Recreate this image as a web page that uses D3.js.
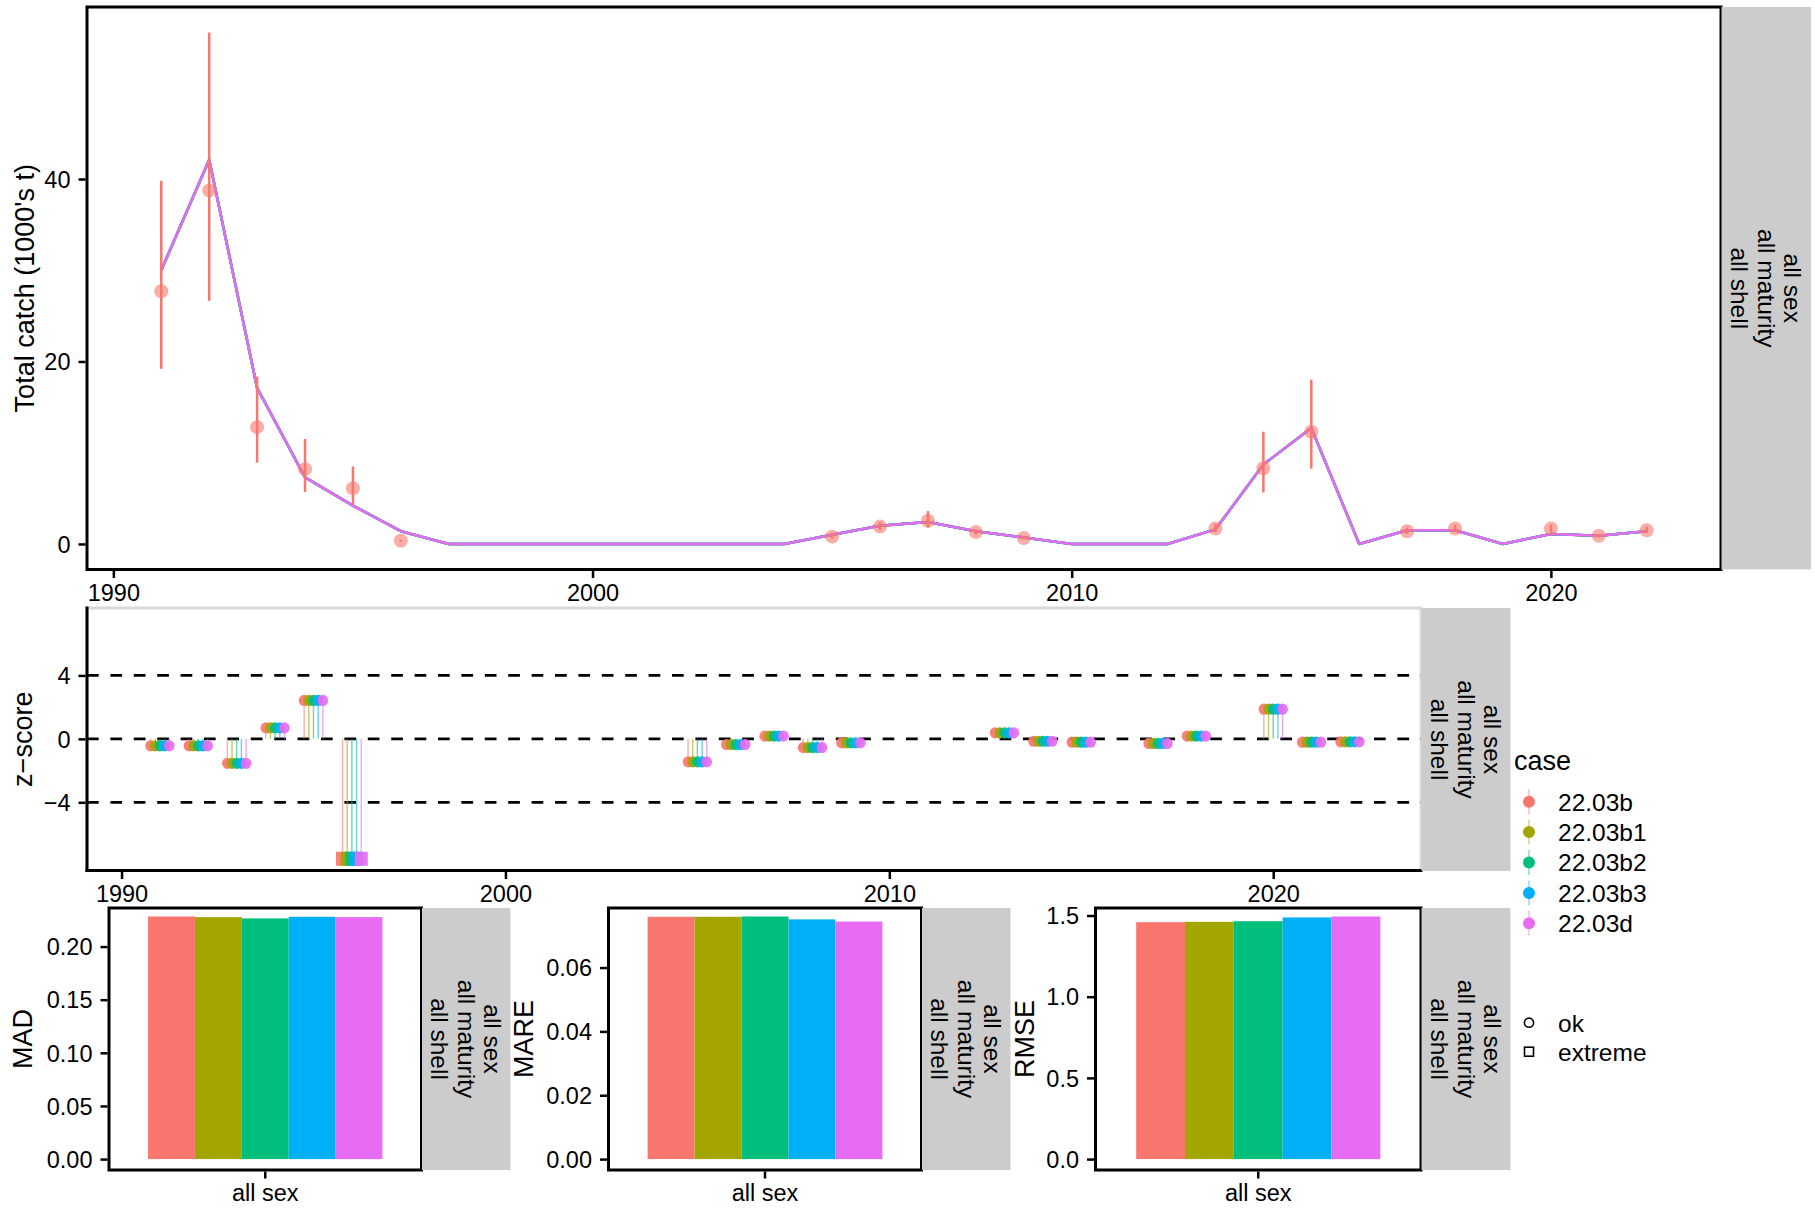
<!DOCTYPE html>
<html><head><meta charset="utf-8">
<script src="https://cdn.jsdelivr.net/npm/d3@7"></script>
<style>
body{margin:0;background:#fff}
svg{display:block}
text{font-family:"Liberation Sans",Arial,Helvetica,sans-serif;fill:#000}
</style>
</head><body>
<svg id="chart" width="1815" height="1208"></svg>
<script>
// ---------------- data ----------------
const cases = ["22.03b","22.03b1","22.03b2","22.03b3","22.03d"];
const caseColors = ["#F8766D","#A3A500","#00BF7D","#00B0F6","#E76BF3"];

const catchYears = [1991,1992,1993,1994,1995,1996,1997,1998,1999,2000,2001,2002,2003,2004,2005,2006,
                    2007,2008,2009,2010,2011,2012,2013,2014,2015,2016,2017,2018,2019,2020,2021,2022];
const predCatch  = [30.0,42.1,17.1,7.3,4.2,1.4,0,0,0,0,0,0,0,0,1.0,2.0,
                    2.4,1.4,0.7,0,0,0,1.6,8.7,12.7,0,1.5,1.5,0,1.1,0.9,1.4];

const obsYears = [1991,1992,1993,1994,1995,1996,2005,2006,2007,2008,2009,2013,2014,2015,2017,2018,2020,2021,2022];
const obsCatch = [27.7,38.75,12.8,8.2,6.1,0.35,0.8,1.9,2.55,1.3,0.65,1.7,8.3,12.3,1.4,1.7,1.7,0.9,1.5];
const obsLow   = [19.2,26.65,8.9,5.7,4.3,0.25,0.6,1.5,1.8,1.0,0.5,1.3,5.65,8.26,1.1,1.35,1.35,0.7,1.2];
const obsHigh  = [39.8,56.05,18.35,11.5,8.5,0.45,1.0,2.4,3.6,1.6,0.8,2.2,12.3,18.0,1.8,2.1,2.1,1.1,1.9];

const zYears  = [1991,1992,1993,1994,1995,1996,2005,2006,2007,2008,2009,2013,2014,2015,2017,2018,2020,2021,2022];
const zScores = [-0.44,-0.44,-1.54,0.69,2.42,-7.56,-1.45,-0.36,0.17,-0.55,-0.25,0.38,-0.15,-0.21,-0.29,0.17,1.87,-0.21,-0.19];

const madValues  = [0.2283,0.2277,0.2265,0.2280,0.2277];
const mareValues = [0.0759,0.0759,0.0760,0.0751,0.0744];
const rmseValues = [1.459,1.461,1.465,1.488,1.494];

const catchTicks = [0,20,40];
const yearTicks  = [1990,2000,2010,2020];
const zTicks     = [-4,0,4];
const madTicks   = [0,0.05,0.10,0.15,0.20];
const mareTicks  = [0,0.02,0.04,0.06];
const rmseTicks  = [0,0.5,1.0,1.5];
const stripLines = ["all sex","all maturity","all shell"];
const barCategory = "all sex";
const shapeLabels = ["ok","extreme"];

// ---------------- helpers ----------------
const svg = d3.select("#chart");
const TICK = 23.5, TITLE = 27, STRIP = 24.5, LEG = 24.5;
const GREY = "#CCCCCC";

function strip(x0, x1, y0, y1) {
  svg.append("rect").attr("x", x0).attr("y", y0).attr("width", x1 - x0).attr("height", y1 - y0).attr("fill", GREY);
  const g = svg.append("g").attr("transform", `translate(${(x0 + x1) / 2},${(y0 + y1) / 2}) rotate(90)`);
  stripLines.forEach((t, i) => {
    g.append("text").attr("x", 0).attr("y", (i - 1) * 26.5).attr("text-anchor", "middle")
      .attr("dominant-baseline", "central").style("font-size", STRIP + "px").text(t);
  });
}
function yTitle(x, y, t) {
  svg.append("text").attr("transform", `translate(${x},${y}) rotate(-90)`).attr("text-anchor", "middle")
    .attr("dominant-baseline", "central").style("font-size", TITLE + "px").text(t);
}
function styleAxis(g) {
  g.select(".domain").remove();
  g.selectAll(".tick line").attr("stroke", "#000").attr("stroke-width", 2.5);
  g.selectAll(".tick text").style("font-size", TICK + "px").attr("fill", "#000")
    .style("font-family", '"Liberation Sans",Arial,sans-serif');
}
function leftAxis(scale, ticks, fmt, x) {
  const g = svg.append("g").attr("transform", `translate(${x},0)`)
    .call(d3.axisLeft(scale).tickValues(ticks).tickFormat(fmt).tickSize(7).tickPadding(8));
  styleAxis(g);
  g.selectAll(".tick text").attr("dy", "0.35em");
}
function bottomAxis(scale, ticks, fmt, y) {
  const g = svg.append("g").attr("transform", `translate(0,${y})`)
    .call(d3.axisBottom(scale).tickValues(ticks).tickFormat(fmt).tickSize(7).tickPadding(6));
  styleAxis(g);
  g.selectAll(".tick text").attr("dy", "0.71em");
}

// ---------------- top panel: catch ----------------
{
  const L = 87, R = 1721, T = 7, B = 569.5;
  const x = d3.scaleLinear().domain([1989.45, 2023.55]).range([L, R]);
  const y = d3.scaleLinear().domain([-2.8, 58.85]).range([B, T]);
  svg.append("rect").attr("x", L).attr("y", T).attr("width", R - L).attr("height", B - T).attr("fill", "#fff");

  const line = d3.line().x((d, i) => x(catchYears[i])).y(d => y(d));
  cases.forEach((c, k) => {
    svg.append("path").datum(predCatch).attr("d", line).attr("fill", "none")
      .attr("stroke", caseColors[k]).attr("stroke-width", 2.5).attr("stroke-linejoin", "round");
  });
  svg.append("g").selectAll("line").data(obsYears).join("line")
    .attr("x1", d => x(d)).attr("x2", d => x(d))
    .attr("y1", (d, i) => y(obsLow[i])).attr("y2", (d, i) => y(obsHigh[i]))
    .attr("stroke", caseColors[0]).attr("stroke-width", 2.5);
  svg.append("g").selectAll("circle").data(obsYears).join("circle")
    .attr("cx", d => x(d)).attr("cy", (d, i) => y(obsCatch[i])).attr("r", 7)
    .attr("fill", caseColors[0]).attr("fill-opacity", 0.6);

  svg.append("rect").attr("x", L).attr("y", T).attr("width", R - L).attr("height", B - T)
    .attr("fill", "none").attr("stroke", "#000").attr("stroke-width", 3);
  leftAxis(y, catchTicks, d3.format("d"), L - 1.5);
  bottomAxis(x, yearTicks, d3.format("d"), B + 1.5);
  yTitle(25, (T + B) / 2, "Total catch (1000's t)");
  strip(R + 0.5, 1811, T, B);
}

// ---------------- middle panel: z-scores ----------------
{
  const L = 87, R = 1421, T = 608, B = 870.5;
  const x = d3.scaleLinear().domain([1989.1, 2023.85]).range([L, R]);
  const y = d3.scaleLinear().domain([-8.3, 8.25]).range([B, T]);
  const dodge = 0.122;
  svg.append("rect").attr("x", L).attr("y", T).attr("width", R - L).attr("height", B - T)
    .attr("fill", "#fff").attr("stroke", "#D9D9D9").attr("stroke-width", 3);
  svg.append("g").selectAll("line").data(zTicks).join("line")
    .attr("x1", L).attr("x2", R).attr("y1", d => y(d)).attr("y2", d => y(d))
    .attr("stroke", "#000").attr("stroke-width", 2.8).attr("stroke-dasharray", "11.7,11.7");
  cases.forEach((c, k) => {
    const off = (k - 2) * dodge;
    const g = svg.append("g");
    g.selectAll("line").data(zYears).join("line")
      .attr("x1", d => x(d + off)).attr("x2", d => x(d + off))
      .attr("y1", y(0)).attr("y2", (d, i) => y(zScores[i]))
      .attr("stroke", caseColors[k]).attr("stroke-opacity", 0.6).attr("stroke-width", 1.4);
  });
  cases.forEach((c, k) => {
    const off = (k - 2) * dodge;
    const g = svg.append("g");
    zYears.forEach((yr, i) => {
      const z = zScores[i];
      const cx = x(yr + off), cy = y(z);
      if (Math.abs(z) > 4) {
        g.append("rect").attr("x", cx - 6.5).attr("y", cy - 7).attr("width", 13).attr("height", 14)
          .attr("fill", caseColors[k]).attr("fill-opacity", 0.92);
      } else {
        g.append("ellipse").attr("cx", cx).attr("cy", cy).attr("rx", 5.3).attr("ry", 5.6)
          .attr("fill", caseColors[k]).attr("fill-opacity", 0.92);
      }
    });
  });
  svg.append("line").attr("x1", L).attr("x2", L).attr("y1", T - 1.5).attr("y2", B + 1.5)
    .attr("stroke", "#000").attr("stroke-width", 3);
  svg.append("line").attr("x1", L - 1.5).attr("x2", R + 1.5).attr("y1", B).attr("y2", B)
    .attr("stroke", "#000").attr("stroke-width", 3);
  leftAxis(y, zTicks, d3.format("d"), L - 1.5);
  bottomAxis(x, yearTicks, d3.format("d"), B + 1.5);
  yTitle(23, (T + B) / 2, "z\u2212score");
  strip(R + 0.5, 1510.5, T, B + 0.5);
}

// ---------------- bottom panels: bars ----------------
function barPanel(L, R, values, ticks, fmt, title, titleX, stripR) {
  const T = 908, B = 1170;
  const vmax = d3.max(values);
  const y = d3.scaleLinear().domain([-0.045 * vmax, 1.035 * vmax]).range([B, T]);
  const xc = d3.scaleLinear().domain([0.4, 1.6]).range([L, R]);
  const band = d3.scaleBand().domain(cases).range([xc(0.55), xc(1.45)]).padding(0);
  svg.append("rect").attr("x", L).attr("y", T).attr("width", R - L).attr("height", B - T).attr("fill", "#fff");
  svg.append("g").selectAll("rect").data(values).join("rect")
    .attr("x", (d, i) => band(cases[i])).attr("width", band.bandwidth())
    .attr("y", d => y(d)).attr("height", d => y(0) - y(d))
    .attr("fill", (d, i) => caseColors[i]);
  svg.append("rect").attr("x", L).attr("y", T).attr("width", R - L).attr("height", B - T)
    .attr("fill", "none").attr("stroke", "#000").attr("stroke-width", 3);
  leftAxis(y, ticks, fmt, L - 1.5);
  const xb = d3.scaleBand().domain([barCategory]).range([L, R]);
  const g = svg.append("g").attr("transform", `translate(0,${B + 1.5})`)
    .call(d3.axisBottom(xb).tickSize(7).tickPadding(6));
  styleAxis(g);
  g.selectAll(".tick text").attr("dy", "0.71em");
  yTitle(titleX, (T + B) / 2, title);
  strip(R + 0.5, stripR, T, B);
}
barPanel(109, 421.5, madValues, madTicks, d3.format(".2f"), "MAD", 23, 510.5);
barPanel(608.5, 921.5, mareValues, mareTicks, d3.format(".2f"), "MARE", 524, 1010.5);
barPanel(1095.5, 1421, rmseValues, rmseTicks, d3.format(".1f"), "RMSE", 1025, 1510.5);

// ---------------- legend ----------------
{
  const lx = 1514, kx = 1529, tx = 1558;
  svg.append("text").attr("x", lx).attr("y", 770).style("font-size", TITLE + "px").text("case");
  const itemY = d3.scaleLinear().domain([0, cases.length - 1]).range([801.7, 923.3]);
  cases.forEach((c, k) => {
    const cy = itemY(k);
    svg.append("line").attr("x1", kx).attr("x2", kx).attr("y1", cy - 12.5).attr("y2", cy + 12.5)
      .attr("stroke", caseColors[k]).attr("stroke-opacity", 0.5).attr("stroke-width", 1.4);
    svg.append("circle").attr("cx", kx).attr("cy", cy).attr("r", 6).attr("fill", caseColors[k]);
    svg.append("text").attr("x", tx).attr("y", cy).attr("dy", "0.36em").style("font-size", LEG + "px").text(c);
  });
  const sy = [1022.7, 1051.7];
  svg.append("circle").attr("cx", kx).attr("cy", sy[0]).attr("r", 4.6)
    .attr("fill", "none").attr("stroke", "#000").attr("stroke-width", 1.6);
  svg.append("rect").attr("x", kx - 4.5).attr("y", sy[1] - 4.5).attr("width", 9).attr("height", 9)
    .attr("fill", "none").attr("stroke", "#000").attr("stroke-width", 1.6);
  shapeLabels.forEach((t, i) => {
    svg.append("text").attr("x", tx).attr("y", sy[i]).attr("dy", "0.36em").style("font-size", LEG + "px").text(t);
  });
}
</script>
</body></html>
